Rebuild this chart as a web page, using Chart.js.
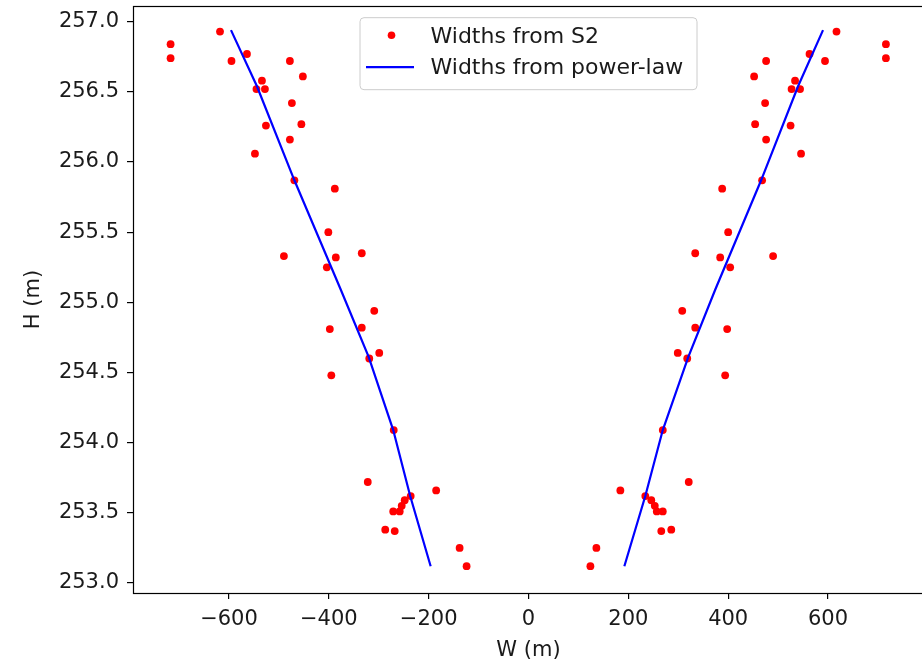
<!DOCTYPE html>
<html>
<head>
<meta charset="utf-8">
<script src="https://cdn.jsdelivr.net/npm/chart.js@4.4.1/dist/chart.umd.min.js"></script>
<style>
  html, body { margin: 0; padding: 0; background: #fff; overflow: hidden; }
  #wrap { width: 922px; height: 663px; overflow: hidden; }
  canvas { display: block; }
</style>
</head>
<body>
<div id="wrap"><canvas id="widthChart" width="928" height="663"></canvas></div>
<script>
// Observed water-surface widths (S2), left and right banks share the same heights
const s2Heights = [256.84, 256.74, 256.93, 256.77, 256.72, 256.72, 256.61, 256.58, 256.52, 256.52,
  256.42, 256.26, 256.27, 256.16, 256.06, 255.87, 255.81, 255.50, 255.33, 255.32,
  255.35, 255.25, 254.94, 254.81, 254.82, 254.64, 254.60, 254.48, 254.09, 253.72,
  253.66, 253.62, 253.59, 253.55, 253.51, 253.51, 253.38, 253.37, 253.25, 253.12];
const s2LeftWidths = [-717, -717, -618, -564, -595, -478, -452, -534, -545, -528,
  -474, -526, -455, -478, -548, -469, -388, -401, -490, -386,
  -334, -404, -309, -398, -334, -299, -319, -395, -270, -322,
  -185, -236, -248, -254, -258, -271, -287, -268, -138, -124];
const s2RightWidths = [716, 716, 617, 563, 594, 476, 452, 534, 544, 527,
  474, 525, 454, 476, 546, 468, 388, 400, 490, 384,
  334, 404, 308, 398, 334, 299, 318, 394, 269, 321,
  184, 234, 246, 253, 257, 269, 286, 266, 136, 124];

// Power-law curve
const lawHeights = [253.12, 253.62, 254.09, 254.61, 255.09, 255.87, 256.54, 256.94];
const lawLeftWidths = [-196, -237, -271, -320, -376, -469, -544, -596];
const lawRightWidths = [192, 234, 269, 320, 374, 466, 540, 590];

const xTicks = [-600, -400, -200, 0, 200, 400, 600];
const yTicks = [253.0, 253.5, 254.0, 254.5, 255.0, 255.5, 256.0, 256.5, 257.0];

const labelS2 = 'Widths from S2';
const labelLaw = 'Widths from power-law';

const FONT = "'DejaVu Sans', sans-serif";
const TEXT = '#1a1a1a';

function toPoints(xs, ys) {
  return xs.map((x, i) => ({ x: x, y: ys[i] }));
}

const s2Points = toPoints(s2LeftWidths, s2Heights).concat(toPoints(s2RightWidths, s2Heights));

// no extra room for the end tick labels, matplotlib keeps the axes box fixed
function noEndPadding(scale) {
  scale.paddingTop = 0;
  scale.paddingBottom = 0;
  scale.paddingLeft = 0;
  scale.paddingRight = 0;
}

// frame around the plot + legend box like matplotlib
const framePlugin = {
  id: 'frame',
  afterDraw(chart) {
    const ctx = chart.ctx;
    const a = chart.chartArea;
    ctx.save();
    ctx.strokeStyle = '#000';
    ctx.lineWidth = 1.2;
    ctx.strokeRect(Math.round(a.left) + 0.5, Math.round(a.top) + 0.5,
      Math.round(a.right - a.left), Math.round(a.bottom - a.top));

    // legend
    const cx = (a.left + a.right) / 2;
    const w = 337, h = 72;
    const bx = cx - w / 2, by = a.top + 11.7;
    ctx.beginPath();
    ctx.roundRect(bx, by, w, h, 4);
    ctx.fillStyle = 'rgba(255,255,255,0.8)';
    ctx.fill();
    ctx.strokeStyle = '#cccccc';
    ctx.lineWidth = 1;
    ctx.stroke();

    ctx.fillStyle = '#ff0000';
    ctx.beginPath();
    ctx.arc(bx + 31.5, by + 17.5, 3.8, 0, Math.PI * 2);
    ctx.fill();

    ctx.strokeStyle = '#0000ff';
    ctx.lineWidth = 2.2;
    ctx.beginPath();
    ctx.moveTo(bx + 6, by + 49.5);
    ctx.lineTo(bx + 54, by + 49.5);
    ctx.stroke();

    ctx.fillStyle = TEXT;
    ctx.font = '22px ' + FONT;
    ctx.textAlign = 'left';
    ctx.textBaseline = 'alphabetic';
    ctx.fillText(labelS2, bx + 70.5, by + 24.8);
    ctx.fillText(labelLaw, bx + 70.5, by + 56.5);
    ctx.restore();
  }
};

const ctx = document.getElementById('widthChart').getContext('2d');

new Chart(ctx, {
  type: 'scatter',
  data: {
    datasets: [
      {
        type: 'line',
        label: labelLaw,
        data: toPoints(lawLeftWidths, lawHeights),
        borderColor: '#0000ff',
        borderWidth: 2.2,
        pointRadius: 0,
        fill: false,
        tension: 0,
        order: 0,
      },
      {
        type: 'line',
        label: labelLaw,
        data: toPoints(lawRightWidths, lawHeights),
        borderColor: '#0000ff',
        borderWidth: 2.2,
        pointRadius: 0,
        fill: false,
        tension: 0,
        order: 0,
      },
      {
        label: labelS2,
        data: s2Points,
        backgroundColor: '#ff0000',
        borderWidth: 0,
        pointRadius: 3.9,
        order: 1,
      },
    ],
  },
  options: {
    responsive: false,
    animation: false,
    devicePixelRatio: 1,
    layout: { padding: { top: 6, right: 2, left: 0, bottom: 0 } },
    scales: {
      x: {
        type: 'linear',
        min: -792.3,
        max: 792.3,
        afterBuildTicks: (scale) => { scale.ticks = xTicks.map(v => ({ value: v })); },
        afterFit: (scale) => { scale.height = 70; noEndPadding(scale); },
        ticks: {
          color: TEXT,
          font: { family: FONT, size: 21 },
          padding: 8,
          maxRotation: 0,
          callback: (v) => (v < 0 ? '\u2212' + Math.abs(v) : String(v)),
        },
        grid: { drawOnChartArea: false, drawTicks: true, tickLength: 6, color: '#000', lineWidth: 1.2 },
        border: { display: false },
        title: {
          display: true,
          text: 'W (m)',
          color: TEXT,
          font: { family: FONT, size: 21 },
          padding: { top: 0, bottom: 0 },
        },
      },
      y: {
        type: 'linear',
        min: 252.929,
        max: 257.112,
        afterBuildTicks: (scale) => { scale.ticks = yTicks.map(v => ({ value: v })); },
        afterFit: (scale) => { scale.width = 133; noEndPadding(scale); },
        ticks: {
          color: TEXT,
          font: { family: FONT, size: 21 },
          padding: 8,
          callback: (v) => v.toFixed(1),
        },
        grid: { drawOnChartArea: false, drawTicks: true, tickLength: 6, color: '#000', lineWidth: 1.2 },
        border: { display: false },
        title: {
          display: true,
          text: 'H (m)',
          color: TEXT,
          font: { family: FONT, size: 21 },
          padding: { top: 20.7, bottom: 0 },
        },
      },
    },
    plugins: {
      legend: { display: false },
      tooltip: { enabled: false },
    },
  },
  plugins: [framePlugin],
});
</script>
</body>
</html>
